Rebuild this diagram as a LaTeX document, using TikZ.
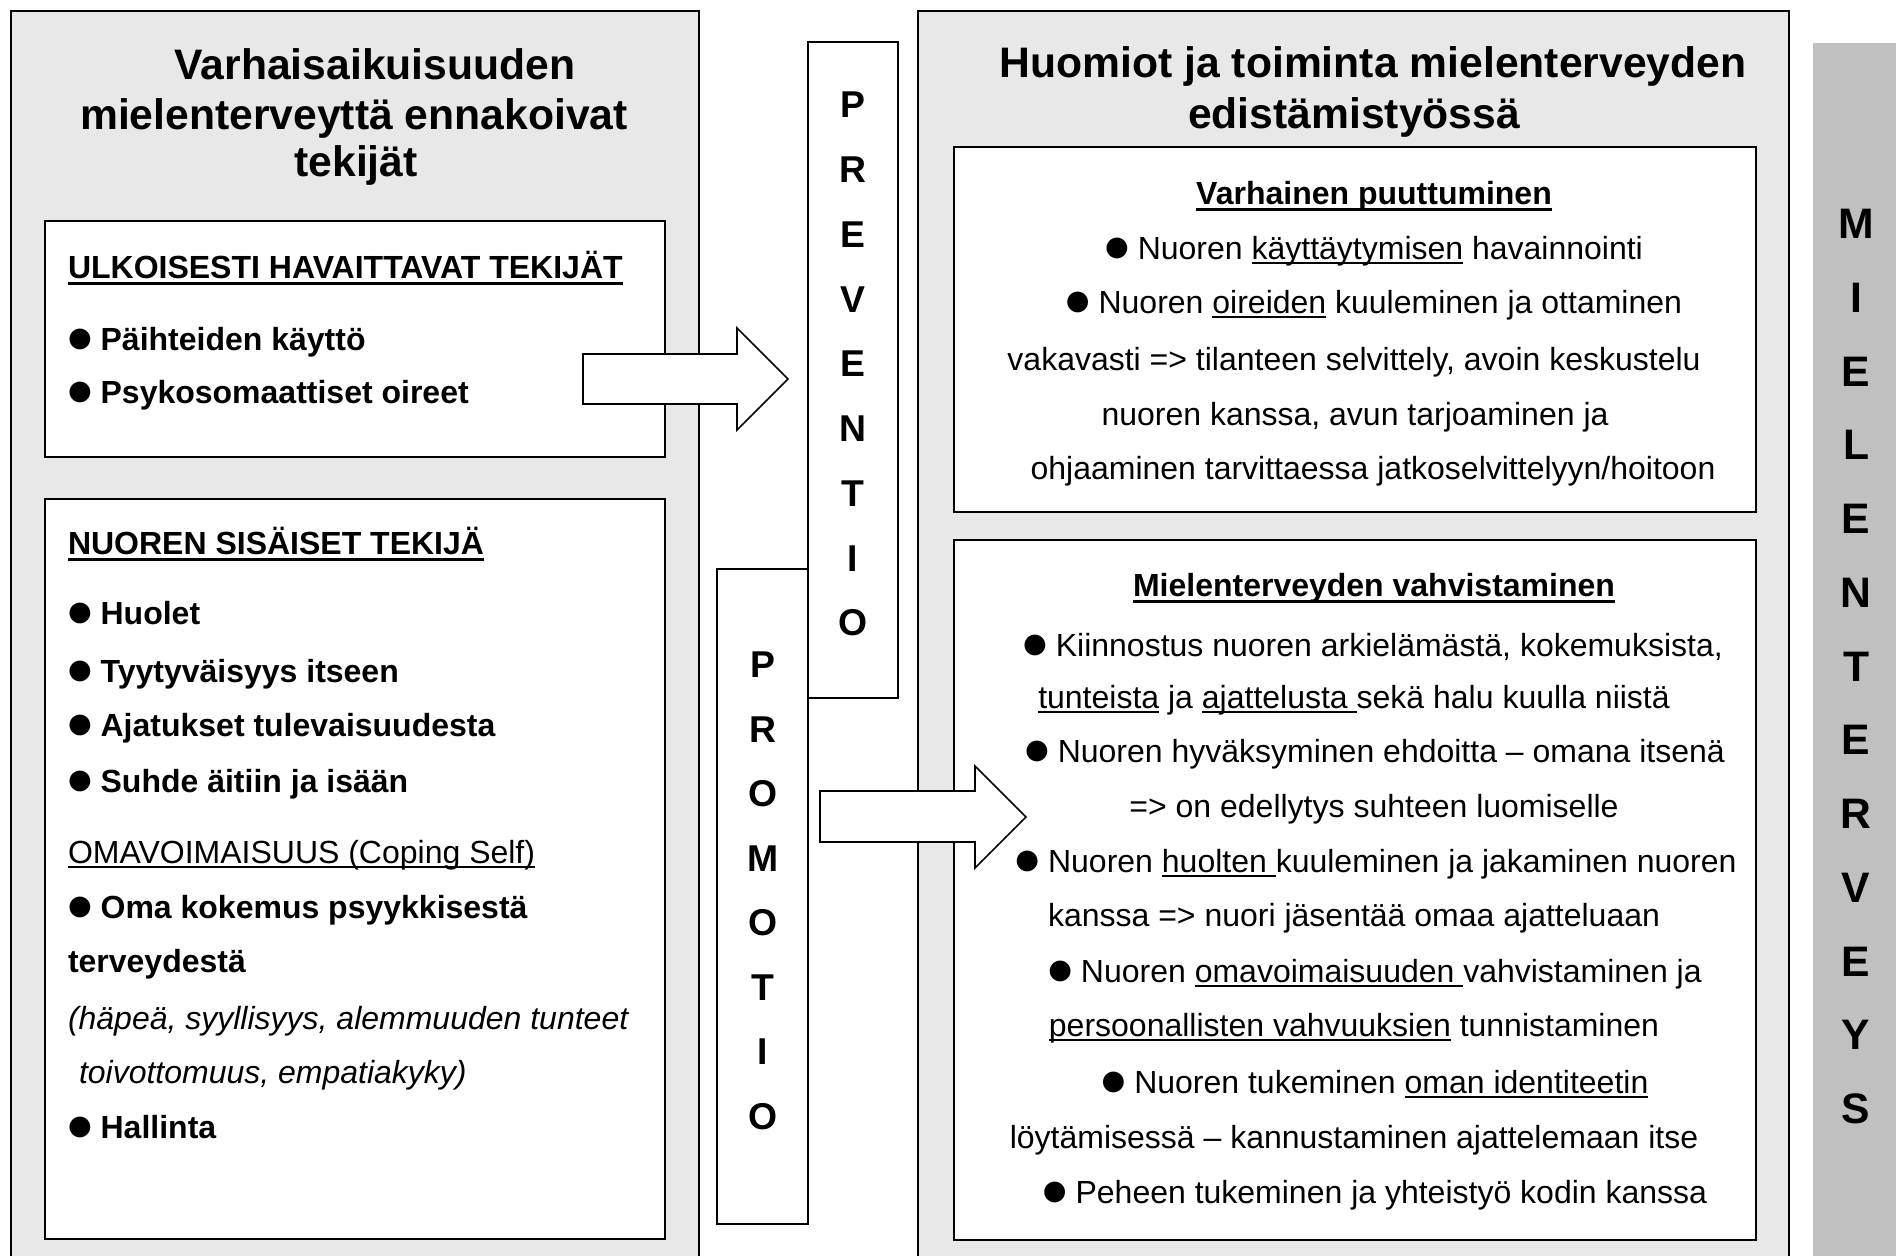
\documentclass[tikz,border=0pt]{standalone}
\usepackage{fontspec}
\setmainfont{Liberation Sans}
\newfontfamily\bulfont{DejaVu Sans}[Scale=0.85]
\usepackage{tikz}
\definecolor{panelgray}{HTML}{E8E8E8}
\definecolor{bargray}{HTML}{C0C0C0}
\newcommand{\bul}{\raisebox{1.2pt}{\bulfont ●}\ }
\newcommand{\hul}[1]{\leavevmode{\setbox0=\hbox{#1}\rlap{\rule[-2.6pt]{\wd0}{1.1pt}}\box0}}
\newcommand{\tul}[1]{\leavevmode{\setbox0=\hbox{#1}\rlap{\rule[-1.9pt]{\wd0}{0.75pt}}\box0}}
\begin{document}
\begin{tikzpicture}[x=0.375pt,y=-0.375pt,line width=0.75pt,
  ttl/.style={font=\fontsize{16}{19}\selectfont\bfseries,anchor=base,yshift=-5.6pt,inner sep=0pt},
  txt/.style={font=\fontsize{12}{14}\selectfont,anchor=base,yshift=-3.75pt,inner sep=0pt},
  ltxt/.style={txt,anchor=base west},
  btxt/.style={ltxt,font=\fontsize{12}{14}\selectfont\bfseries},
  vlet/.style={font=\fontsize{14}{16}\selectfont\bfseries,inner sep=0pt},
  blet/.style={font=\fontsize{16}{18}\selectfont\bfseries,inner sep=0pt},
  pnl/.style={draw,fill=panelgray},
  bx/.style={draw,fill=white},
  blk/.style={draw,fill=white,line width=0.6pt}]
\useasboundingbox(0,0)rectangle(1896,1255);
\clip(0,0)rectangle(1896,1255);
% panels
\draw[pnl](11,11)rectangle(699,1280);
\draw[pnl](918,11)rectangle(1789,1280);
\fill[bargray](1813,43)rectangle(1900,1280);
% boxes
\draw[bx](45,221)rectangle(665,457);
\draw[bx](45,499)rectangle(665,1239);
\draw[bx](954,147)rectangle(1756,512);
\draw[bx](954,540)rectangle(1756,1240);
\draw[bx](808,42)rectangle(898,698);
\draw[bx](717,569)rectangle(808,1224);
% block arrows
\draw[blk](583,354)--(737,354)--(737,328)--(788,379)--(737,430)--(737,404)--(583,404)--cycle;
\draw[blk](820,791)--(975,791)--(975,766)--(1026,817)--(975,868)--(975,842)--(820,842)--cycle;
% titles
\node[ttl](lt1) at (375,65){Varhaisaikuisuuden};
\node[ttl](lt2) at (354,115){mielenterveyttä ennakoivat};
\node[ttl](lt3) at (356,162){tekijät};
\node[ttl](rt1) at (1373,63){Huomiot ja toiminta mielenterveyden};
\node[ttl](rt2) at (1354,114){edistämistyössä};
% left boxes
\node[btxt](ulk-h) at (67,268){\hul{ULKOISESTI HAVAITTAVAT TEKIJÄT}};
\node[btxt](ulk-1) at (67,340){\bul Päihteiden käyttö};
\node[btxt](ulk-2) at (67,393){\bul Psykosomaattiset oireet};
\node[btxt](sis-h) at (67,544){\hul{NUOREN SISÄISET TEKIJÄ}};
\node[btxt](sis-1) at (67,614){\bul Huolet};
\node[btxt](sis-2) at (67,672){\bul Tyytyväisyys itseen};
\node[btxt](sis-3) at (67,726){\bul Ajatukset tulevaisuudesta};
\node[btxt](sis-4) at (67,782){\bul Suhde äitiin ja isään};
\node[ltxt](sis-5) at (67,853){\tul{OMAVOIMAISUUS (Coping Self)}};
\node[btxt](sis-6) at (67,908){\bul Oma kokemus psyykkisestä};
\node[btxt](sis-7) at (67,962){terveydestä};
\node[ltxt](sis-8) at (67,1019){\itshape (häpeä, syyllisyys, alemmuuden tunteet};
\node[ltxt](sis-9) at (78,1073){\itshape toivottomuus, empatiakyky)};
\node[btxt](sis-10) at (67,1128){\bul Hallinta};
% right boxes
\node[txt](var-h) at (1374,194){\bfseries\hul{Varhainen puuttuminen}};
\node[txt](var-1) at (1374,249){\bul Nuoren \tul{käyttäytymisen} havainnointi};
\node[txt](var-2) at (1374,303){\bul Nuoren \tul{oireiden} kuuleminen ja ottaminen};
\node[txt](var-3) at (1354,360){vakavasti => tilanteen selvittely, avoin keskustelu};
\node[txt](var-4) at (1355,415){nuoren kanssa, avun tarjoaminen ja};
\node[txt](var-5) at (1373,469){ohjaaminen tarvittaessa jatkoselvittelyyn/hoitoon};
\node[txt](vah-h) at (1374,586){\bfseries\hul{Mielenterveyden vahvistaminen}};
\node[txt](vah-1) at (1373,646){\bul Kiinnostus nuoren arkielämästä, kokemuksista,};
\node[txt](vah-2) at (1354,698){\tul{tunteista} ja \tul{ajattelusta }sekä halu kuulla niistä};
\node[txt](vah-3) at (1375,752){\bul Nuoren hyväksyminen ehdoitta – omana itsenä};
\node[txt](vah-4) at (1374,807){=> on edellytys suhteen luomiselle};
\node[txt](vah-5) at (1376,862){\bul Nuoren \tul{huolten }kuuleminen ja jakaminen nuoren};
\node[txt](vah-6) at (1354,916){kanssa => nuori jäsentää omaa ajatteluaan};
\node[txt](vah-7) at (1375,972){\bul Nuoren \tul{omavoimaisuuden }vahvistaminen ja};
\node[txt](vah-8) at (1354,1026){\tul{persoonallisten vahvuuksien} tunnistaminen};
\node[txt](vah-9) at (1375,1083){\bul Nuoren tukeminen \tul{oman identiteetin}};
\node[txt](vah-10) at (1354,1138){löytämisessä – kannustaminen ajattelemaan itse};
\node[txt](vah-11) at (1375,1193){\bul Peheen tukeminen ja yhteistyö kodin kanssa};
% vertical words
\foreach \l [count=\i from 0] in {P,R,E,V,E,N,T,I,O}
  \node[vlet](prev-\i) at (853,{105+64.75*\i}){\l};
\foreach \l [count=\i from 0] in {P,R,O,M,O,T,I,O}
  \node[vlet](prom-\i) at (763,{665+64.5*\i}){\l};
\foreach \l [count=\i from 0] in {M,I,E,L,E,N,T,E,R,V,E,Y,S}
  \node[blet](mt-\i) at (1856,{224+73.75*\i}){\l};
\end{tikzpicture}
\end{document}
